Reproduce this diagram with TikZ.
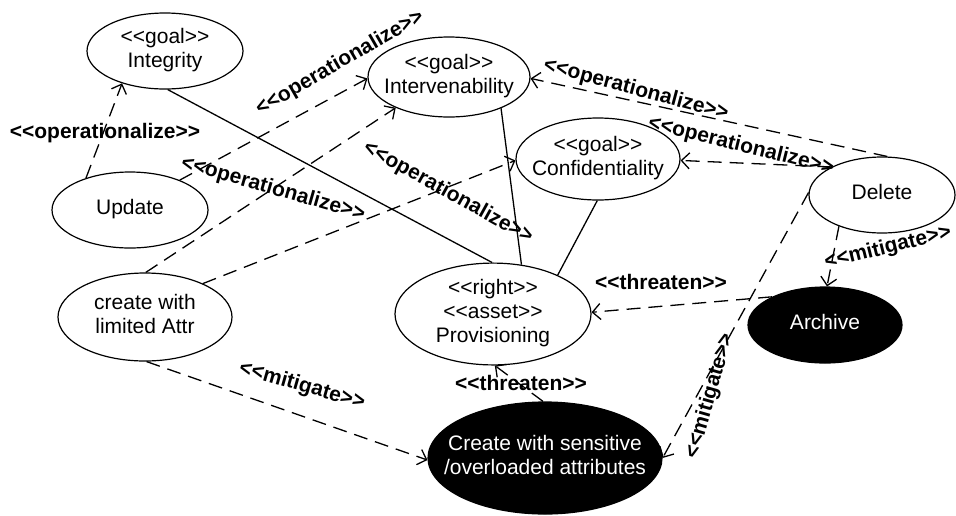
\documentclass[tikz,border=0pt]{standalone}
\usepackage{fontspec}
\setmainfont{Liberation Sans}[Ligatures=TeXOff]
\usetikzlibrary{shapes.geometric,arrows.meta}
% centred multi-line text that does not widen the ellipse around it
\newcommand{\uctext}[1]{\makebox[0pt]{\begin{tabular}{@{}c@{}}#1\end{tabular}}}

\begin{document}
\begin{tikzpicture}[x=1pt,y=-1pt,
  uc/.style args={#1/#2}{ellipse, draw, line width=1.2pt, minimum width=#1pt,
    minimum height=#2pt, inner sep=0pt, font=\fontsize{21}{24}\selectfont},
  threat/.style={fill=black, text=white},
  dep/.style={line width=1.3pt, dash pattern=on 14pt off 8pt,
    -{Straight Barb[length=8pt,width=16pt]}},
  assoc/.style={line width=1.3pt},
  lab/.style={font=\bfseries\fontsize{21}{24}\selectfont, inner sep=0pt}]

\useasboundingbox (0,0) rectangle (956,515);

% use cases and goals
\node[uc=156/76] (integ)  at (165,51)  {\uctext{<<goal>>\\Integrity}};
\node[uc=156/76] (upd)    at (130,210) {\uctext{Update}};
\node[uc=162/80] (interv) at (449,77)  {\uctext{<<goal>>\\Intervenability}};
\node[uc=164/82] (conf)   at (598,159) {\uctext{<<goal>>\\Confidentiality}};
\node[uc=146/76] (del)    at (882,195) {\uctext{Delete}};
\node[uc=174/88] (lim)    at (145,317) {\uctext{create with\\limited Attr}};
\node[uc=196/100] (prov)  at (493,314) {\uctext{<<right>>\\<<asset>>\\Provisioning}};
\node[uc=234/112, threat] (sens) at (545,458) {\uctext{Create with sensitive\\/overloaded attributes}};
\node[uc=154/76, threat] (arch)  at (825,325) {\uctext{Archive}};

% operationalize dependencies
\draw[dep] (upd.144) -- (integ.217);
\draw[dep] (upd.31) -- (interv.181);
\draw[dep] (lim.89) -- (interv.210);
\draw[dep] (lim.30) -- (conf.181);
\draw[dep] (del.82) -- (interv.359);
\draw[dep] (del.151) -- (conf.359);

% associations to the asset
\draw[assoc] (integ.274) -- (prov.91);
\draw[assoc] (interv.329) -- (prov.60);
\draw[assoc] (conf.269) -- (prov.31);

% threats and mitigations
\draw[dep] (arch.152) -- (prov.1);
\draw[dep] (sens.92) -- (prov.272);
\draw[dep] (del.216) -- (arch.87);
\draw[dep] (del.178) -- (sens.0);
\draw[dep] (lim.272) -- (sens.181);

% labels
\node[lab] (l1) at (105,133) {<<operationalize>>};
\node[lab, rotate=30] (l2) at (340,63) {<<operationalize>>};
\node[lab, rotate=-16] (l3) at (273,189) {<<operationalize>>};
\node[lab, rotate=-29] (l4) at (448,193) {<<operationalize>>};
\node[lab, rotate=-15] (l5) at (636,90) {<<operationalize>>};
\node[lab, rotate=-14] (l6) at (741,146) {<<operationalize>>};
\node[lab, rotate=14] (l7) at (888,248) {<<mitigate>>};
\node[lab] (l8) at (661,282) {<<threaten>>};
\node[lab] (l9) at (521,383) {<<threaten>>};
\node[lab, rotate=74] (l10) at (710,396) {<<mitigate>>};
\node[lab, rotate=-16] (l11) at (302,386) {<<mitigate>>};
\end{tikzpicture}
\end{document}
